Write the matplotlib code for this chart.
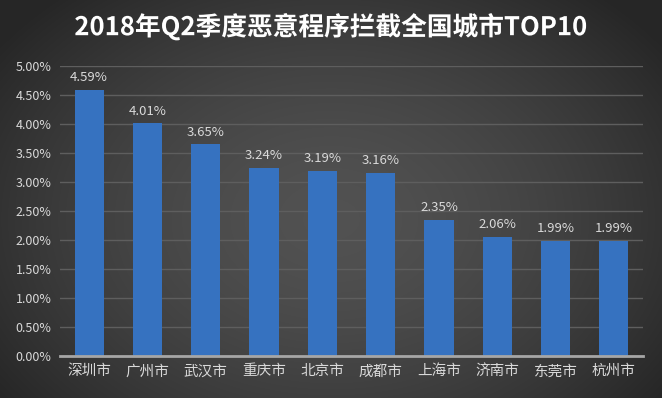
import numpy as np
import matplotlib.pyplot as plt
import matplotlib.patheffects as pe
from matplotlib.ticker import FuncFormatter

plt.rcParams["font.family"] = ["Noto Sans CJK SC", "DejaVu Sans"]

# ── data ────────────────────────────────────────────────────────────────
cities = ["深圳市", "广州市", "武汉市", "重庆市", "北京市",
          "成都市", "上海市", "济南市", "东莞市", "杭州市"]
shares = [4.59, 4.01, 3.65, 3.24, 3.19, 3.16, 2.35, 2.06, 1.99, 1.99]
y_ticks = [0.0, 0.5, 1.0, 1.5, 2.0, 2.5, 3.0, 3.5, 4.0, 4.5, 5.0]
title = "2018年Q2季度恶意程序拦截全国城市TOP10"

W, H = 662, 398
fig = plt.figure(figsize=(W / 100, H / 100), dpi=100)

# ── radial gradient background ──────────────────────────────────────────
bg = fig.add_axes([0, 0, 1, 1])
yy, xx = np.mgrid[0:H, 0:W]
r = np.sqrt(((xx - W * 0.5) / (W * 0.62)) ** 2 + ((yy - H * 0.55) / (H * 0.75)) ** 2)
shade = np.clip(0.32 - 0.17 * r ** 1.6, 0.15, 0.32)
bg.imshow(np.dstack([shade] * 3), aspect="auto", extent=[0, 1, 0, 1])
bg.set_axis_off()

# ── bars ────────────────────────────────────────────────────────────────
ax = fig.add_axes([60 / W, 1 - 356 / H, 583 / W, 290 / H])
ax.patch.set_alpha(0)
x = np.arange(len(cities))
bars = ax.bar(x, shares, width=0.5, color="#3672c0", zorder=3,
              edgecolor="none")
for b in bars:
    b.set_path_effects([pe.withSimplePatchShadow(offset=(0, 0), shadow_rgbFace="#1a2a40", alpha=0.35)])

for xi, v in zip(x, shares):
    ax.text(xi, v + 0.1, f"{v:.2f}%", ha="center", va="bottom",
            color="#d9d9d9", fontsize=9.5, zorder=4)

ax.set_xlim(-0.5, len(cities) - 0.5)
ax.set_ylim(0, 5.0)
ax.set_yticks(y_ticks)
ax.yaxis.set_major_formatter(FuncFormatter(lambda v, _: f"{v:.2f}%"))
ax.set_xticks(x)
ax.set_xticklabels(cities)
ax.tick_params(axis="y", length=0, colors="#d9d9d9", labelsize=9, pad=6)
ax.tick_params(axis="x", length=0, colors="#d9d9d9", labelsize=10.5, pad=6)
ax.grid(axis="y", color="#5e5e5e", lw=1, zorder=0)
for sp in ("top", "right", "left"):
    ax.spines[sp].set_visible(False)
ax.spines["bottom"].set_color("#a6a6a6")
ax.spines["bottom"].set_linewidth(2)
ax.spines["bottom"].set_zorder(5)

fig.text(0.5, 1 - 27 / H, title, ha="center", va="center",
         color="white", fontsize=18.5, fontweight="bold",
         path_effects=[pe.SimpleLineShadow(offset=(1.5, -1.5), shadow_color="black", alpha=0.6),
                       pe.Normal()])

plt.savefig("out.png", dpi=100)
plt.close()
